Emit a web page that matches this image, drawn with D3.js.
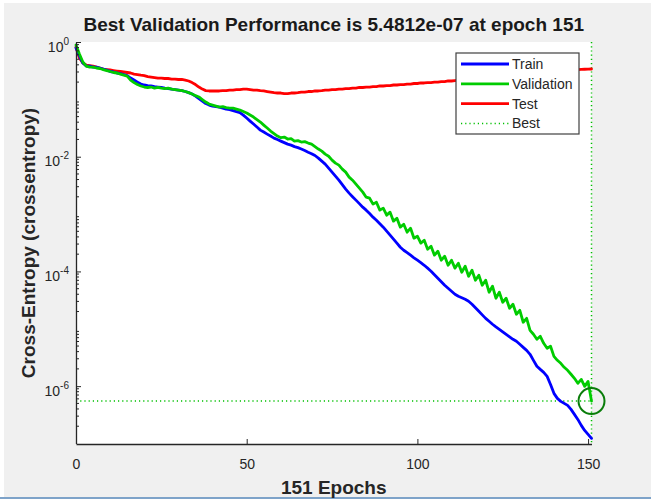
<!DOCTYPE html>
<html>
<head>
<meta charset="utf-8">
<script src="https://cdn.jsdelivr.net/npm/d3@7"></script>
<style>
body { margin: 0; background: #fff; }
svg { display: block; font-family: "Liberation Sans", Arial, sans-serif; }
</style>
</head>
<body>
<div id="chart"></div>
<script>
// cross-entropy per epoch (0..151)
const train = [0.79,0.57,0.43,0.381,0.381,0.366,0.366,0.352,0.338,0.325,
	0.306,0.300,0.288,0.282,0.271,0.260,0.235,0.217,0.200,0.185,
	0.178,0.174,0.171,0.167,0.164,0.161,0.157,0.154,0.151,0.148,
	0.145,0.142,0.137,0.131,0.124,0.114,0.103,0.0934,0.0845,0.0795,
	0.0764,0.0748,0.0734,0.0705,0.0677,0.0664,0.0638,0.0612,0.0588,0.0532,
	0.0472,0.0418,0.0371,0.0329,0.0291,0.0269,0.0248,0.0229,0.0211,0.0199,
	0.0187,0.0176,0.0166,0.0159,0.0150,0.0144,0.0136,0.0128,0.0120,0.0113,
	0.0105,0.00945,0.00838,0.00743,0.00632,0.00538,0.00459,0.00390,0.00326,0.00272,
	0.00232,0.00201,0.00175,0.00152,0.00132,0.00117,0.00102,8.83e-4,7.82e-4,6.80e-4,
	5.91e-4,5.03e-4,4.28e-4,3.65e-4,3.11e-4,2.64e-4,2.34e-4,2.12e-4,1.92e-4,1.73e-4,
	1.57e-4,1.42e-4,1.28e-4,1.14e-4,1.01e-4,8.76e-5,7.61e-5,6.61e-5,5.74e-5,5.09e-5,
	4.51e-5,4.00e-5,3.69e-5,3.48e-5,3.27e-5,3.02e-5,2.68e-5,2.33e-5,2.02e-5,1.75e-5,
	1.52e-5,1.35e-5,1.20e-5,1.08e-5,9.80e-6,8.86e-6,8.02e-6,7.25e-6,6.56e-6,6.05e-6,
	5.36e-6,4.75e-6,4.21e-6,3.59e-6,2.82e-6,2.22e-6,1.96e-6,1.74e-6,1.48e-6,1.07e-6,
	7.49e-7,6.12e-7,5.43e-7,5.01e-7,4.62e-7,3.94e-7,3.22e-7,2.63e-7,2.07e-7,1.69e-7,
	1.44e-7,1.23e-7]

const validation = [0.886,0.617,0.448,0.381,0.366,0.366,0.352,0.345,0.331,0.318,
	0.306,0.294,0.288,0.276,0.265,0.255,0.217,0.196,0.181,0.171,
	0.164,0.161,0.164,0.157,0.161,0.157,0.154,0.157,0.151,0.148,
	0.145,0.142,0.137,0.131,0.124,0.116,0.110,0.0992,0.0897,0.0828,
	0.0795,0.0764,0.0734,0.0748,0.0719,0.0705,0.0705,0.0677,0.0651,0.0612,
	0.0577,0.0532,0.0491,0.0444,0.0402,0.0356,0.0316,0.0280,0.0253,0.0229,
	0.0215,0.0220,0.0203,0.0207,0.0187,0.0191,0.0180,0.0183,0.0173,0.0166,
	0.0150,0.0136,0.0125,0.0111,0.0102,0.00873,0.00773,0.00714,0.00608,0.00538,
	0.00441,0.00390,0.00332,0.00283,0.00241,0.00197,0.00189,0.00149,0.00161,0.00117,
	0.00127,9.57e-4,1.08e-3,7.52e-4,8.48e-4,5.91e-4,6.66e-4,4.83e-4,5.67e-4,3.80e-4,
	4.11e-4,3.11e-4,3.50e-4,2.44e-4,2.75e-4,1.92e-4,2.25e-4,1.57e-4,1.84e-4,1.28e-4,
	1.57e-4,1.14e-4,1.39e-4,9.68e-5,1.23e-4,8.25e-5,1.05e-4,7.02e-5,8.59e-5,5.74e-5,
	7.02e-5,4.34e-5,5.52e-5,3.41e-5,4.34e-5,2.90e-5,3.41e-5,2.28e-5,2.68e-5,1.79e-5,
	2.10e-5,1.30e-5,1.52e-5,9.41e-6,8.02e-6,6.56e-6,7.40e-6,5.58e-6,4.57e-6,4.95e-6,
	3.31e-6,2.82e-6,2.50e-6,2.13e-6,1.89e-6,1.61e-6,1.37e-6,1.12e-6,1.31e-6,9.92e-7,
	1.21e-6,5.4812e-7]

const test = [0.818,0.526,0.430,0.397,0.389,0.381,0.366,0.352,0.338,0.331,
	0.325,0.318,0.312,0.306,0.300,0.294,0.288,0.276,0.271,0.265,
	0.260,0.250,0.245,0.240,0.235,0.235,0.231,0.231,0.226,0.226,
	0.222,0.222,0.217,0.209,0.196,0.181,0.164,0.151,0.142,0.140,
	0.140,0.140,0.140,0.142,0.142,0.145,0.145,0.148,0.148,0.151,
	0.151,0.148,0.145,0.145,0.142,0.140,0.137,0.134,0.131,0.129,
	0.129,0.126,0.126,0.129,0.129,0.131,0.134,0.134,0.137,0.137,
	0.140,0.140,0.142,0.145,0.145,0.148,0.148,0.151,0.151,0.154,
	0.154,0.157,0.157,0.161,0.161,0.164,0.164,0.167,0.167,0.171,
	0.171,0.174,0.174,0.178,0.178,0.181,0.181,0.185,0.185,0.189,
	0.189,0.193,0.193,0.196,0.196,0.200,0.200,0.204,0.204,0.209,
	0.209,0.213,0.217,0.220,0.223,0.226,0.229,0.232,0.235,0.238,
	0.241,0.244,0.247,0.250,0.253,0.256,0.259,0.262,0.265,0.268,
	0.271,0.274,0.277,0.280,0.283,0.286,0.289,0.292,0.296,0.300,
	0.303,0.307,0.311,0.315,0.319,0.323,0.327,0.330,0.333,0.335,
	0.337,0.338]

const bestEpoch = 151
const bestValue = 5.4812e-7
const xTicks = [0, 50, 100, 150]
const yTicks = [1, 1e-2, 1e-4, 1e-6]
const seriesNames = ["Train", "Validation", "Test", "Best"]
const seriesColors = ["#0000ff", "#00cc00", "#ff0000", "#00c000"]

const width = 651
const height = 501
const margin = ({top: 42, right: 59, bottom: 57, left: 76})
const ink = "#262626"

const svg = d3.select("#chart")
	.append("svg")
		.attr("width", width)
		.attr("height", height)

// window background
svg.append("rect").attr("x", 4).attr("y", 3).attr("width", width - 4).attr("height", 494).attr("fill", "#f0f0f0")
svg.append("rect").attr("x", 0).attr("y", 497).attr("width", width).attr("height", 2).attr("fill", "#7ea3c9")

const x = d3.scaleLinear()
	.domain([0, 151])
	.range([margin.left, width - margin.right - 0.5])

const y = d3.scaleLog()
	.domain([1e-7, 1])
	.range([height - margin.bottom - 0.5, margin.top])

// plot area
svg.append("rect")
	.attr("x", x(0)).attr("y", y(1))
	.attr("width", x(151) - x(0)).attr("height", height - margin.bottom - y(1))
	.attr("fill", "#fff")

// best markers
const best = svg.append("g")
	.attr("stroke", seriesColors[3])
	.attr("stroke-width", 1.5)
	.attr("stroke-dasharray", "1.2,3")
best.append("line")
	.attr("x1", x(0)).attr("x2", x(bestEpoch))
	.attr("y1", y(bestValue)).attr("y2", y(bestValue))
best.append("line")
	.attr("x1", x(bestEpoch)).attr("x2", x(bestEpoch))
	.attr("y1", y(1)).attr("y2", height - margin.bottom)

const line = d3.line()
	.x((d, i) => x(i))
	.y(d => y(d))

svg.append("g")
	.attr("fill", "none")
	.attr("stroke-width", 2.8)
	.attr("stroke-linejoin", "round")
	.attr("stroke-linecap", "round")
	.selectAll("path")
	.data([test, train, validation].map((v, k) => ({values: v, color: [seriesColors[2], seriesColors[0], seriesColors[1]][k]})))
	.join("path")
		.attr("stroke", d => d.color)
		.attr("d", d => line(d.values))

svg.append("circle")
	.attr("cx", x(bestEpoch)).attr("cy", y(bestValue))
	.attr("r", 13)
	.attr("fill", "none")
	.attr("stroke", "#0a7d0a")
	.attr("stroke-width", 2)

// axes
const xAxis = svg.append("g")
	.attr("transform", `translate(0,${height - margin.bottom})`)
	.call(d3.axisBottom(x).tickValues(xTicks).tickSize(-5).tickSizeOuter(0).tickPadding(15))
xAxis.select(".domain").attr("stroke", ink).attr("stroke-width", 1.3)
xAxis.selectAll(".tick line").attr("stroke", ink)
xAxis.selectAll(".tick text")
	.attr("fill", ink)
	.style("font-size", "14px")
	.style("font-family", "'Liberation Sans', Arial, sans-serif")

const yAxis = svg.append("g")
	.attr("transform", `translate(${margin.left},0)`)
	.call(d3.axisLeft(y).tickValues(yTicks).tickSize(-5).tickSizeOuter(0).tickFormat(""))
yAxis.select(".domain").attr("stroke", ink).attr("stroke-width", 1.3)
yAxis.selectAll(".tick line").attr("stroke", ink)
yAxis.selectAll(".tick text").remove()
yAxis.selectAll(".tick").append("text")
	.attr("x", -7)
	.attr("y", 9)
	.attr("text-anchor", "end")
	.attr("fill", ink)
	.style("font-size", "14px")
	.call(t => t.append("tspan").text("10"))
	.call(t => t.append("tspan")
		.attr("dy", -7)
		.style("font-size", "10px")
		.text(d => Math.round(Math.log10(d))))

// minor ticks of the log axis
const minor = y.ticks().filter(d => Math.abs(Math.log10(d) - Math.round(Math.log10(d))) > 1e-6)
yAxis.selectAll(".minor")
	.data(minor)
	.join("line")
		.attr("class", "minor")
		.attr("x1", 0).attr("x2", 3)
		.attr("y1", d => y(d)).attr("y2", d => y(d))
		.attr("stroke", ink)

// texts
svg.append("text")
	.attr("x", (x(0) + x(151)) / 2).attr("y", 31)
	.attr("text-anchor", "middle")
	.attr("font-weight", "bold")
	.attr("font-size", 19)
	.attr("fill", "#1a1a1a")
	.text("Best Validation Performance is 5.4812e-07 at epoch 151")

svg.append("text")
	.attr("x", (x(0) + x(151)) / 2).attr("y", 494)
	.attr("text-anchor", "middle")
	.attr("font-weight", "bold")
	.attr("font-size", 19)
	.attr("fill", ink)
	.text("151 Epochs")

svg.append("text")
	.attr("transform", `translate(35,${(y(1) + height - margin.bottom) / 2}) rotate(-90)`)
	.attr("text-anchor", "middle")
	.attr("font-weight", "bold")
	.attr("font-size", 19)
	.attr("fill", ink)
	.text("Cross-Entropy  (crossentropy)")

// legend
const legend = svg.append("g").attr("transform", "translate(456,53)")
legend.append("rect")
	.attr("width", 123).attr("height", 81)
	.attr("fill", "#fff")
	.attr("stroke", "#404040")
	.attr("stroke-width", 1.2)
const rows = legend.selectAll(".row")
	.data(seriesNames)
	.join("g")
		.attr("class", "row")
		.attr("transform", (d, i) => `translate(0,${11 + i * 19.8})`)
rows.append("line")
	.attr("x1", 5).attr("x2", 53)
	.attr("stroke", (d, i) => seriesColors[i])
	.attr("stroke-width", (d, i) => i == 3 ? 1.5 : 2.8)
	.attr("stroke-dasharray", (d, i) => i == 3 ? "1.2,3" : null)
rows.append("text")
	.attr("x", 56).attr("y", 5)
	.attr("font-size", 14)
	.attr("fill", ink)
	.text(d => d)
</script>
</body>
</html>
